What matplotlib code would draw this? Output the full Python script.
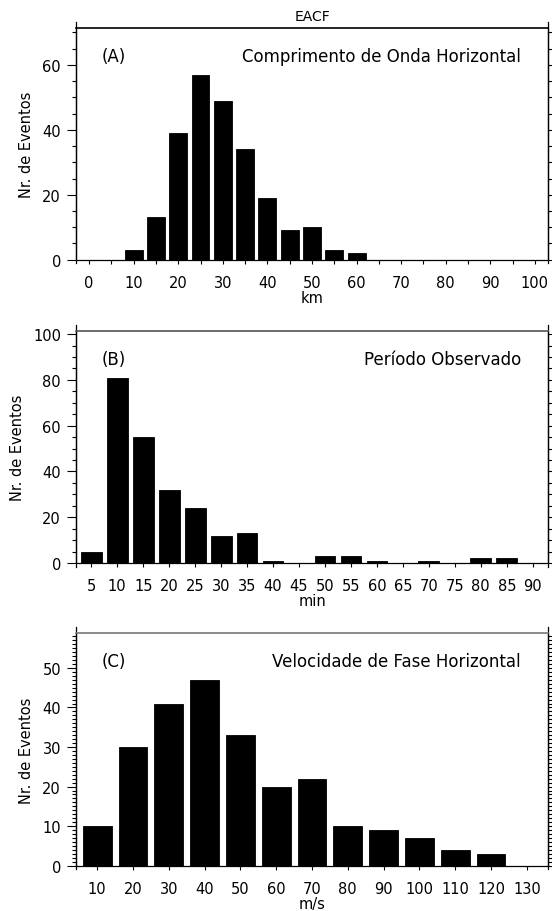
import numpy as np
import matplotlib.pyplot as plt
from matplotlib.ticker import MultipleLocator

# (A) comprimento de onda horizontal (classes de 5 km)
lambda_km = [0, 5, 10, 15, 20, 25, 30, 35, 40, 45, 50,
             55, 60, 65, 70, 75, 80, 85, 90, 95, 100]
lambda_n = [0, 0, 3, 13, 39, 57, 49, 34, 19, 9, 10,
            3, 2, 0, 0, 0, 0, 0, 0, 0, 0]

# (B) periodo observado (classes de 5 min)
periodo_min = [5, 10, 15, 20, 25, 30, 35, 40, 45,
               50, 55, 60, 65, 70, 75, 80, 85, 90]
periodo_n = [5, 81, 55, 32, 24, 12, 13, 1, 0,
             3, 3, 1, 0, 1, 0, 2, 2, 0]

# (C) velocidade de fase horizontal (classes de 10 m/s)
vel_ms = [10, 20, 30, 40, 50, 60, 70, 80, 90, 100, 110, 120, 130]
vel_n = [10, 30, 41, 47, 33, 20, 22, 10, 9, 7, 4, 3, 0]

plt.rcParams['font.family'] = 'DejaVu Sans'
plt.rcParams['font.size'] = 10


def histo(ax, x, n, dx, xmaj, xmin, ymaj, ymin, xlabel, tag, name, topcolor):
    ax.bar(x, n, width=0.8 * dx, color='black', edgecolor='black', linewidth=0.6)
    ax.set_xlim(x[0] - 0.6 * dx, x[-1] + 0.6 * dx)
    ax.set_ylim(0, 1.25 * max(n))
    ax.xaxis.set_major_locator(MultipleLocator(xmaj))
    ax.xaxis.set_minor_locator(MultipleLocator(xmin))
    ax.yaxis.set_major_locator(MultipleLocator(ymaj))
    ax.yaxis.set_minor_locator(MultipleLocator(ymin))
    ax.tick_params(axis='x', which='both', direction='out', top=False,
                   length=2.9, width=0.8, pad=8.0, labelsize=10.5)
    ax.tick_params(axis='y', which='major', direction='out', left=True, right=True,
                   length=6.5, width=0.8, pad=4.0, labelsize=10.5)
    ax.tick_params(axis='y', which='minor', direction='out', left=True, right=True,
                   length=3.0, width=0.8)
    ax.spines['top'].set_color(topcolor)
    ax.spines['top'].set_linewidth(1.2)
    for s in ['left', 'right', 'bottom']:
        ax.spines[s].set_linewidth(0.9)
    # eixos verticais passam um pouco alem da caixa
    for xs in [0, 1]:
        ax.plot([xs, xs], [-0.016, 1.026], color='black', lw=0.9,
                transform=ax.transAxes, clip_on=False)
    ax.set_xlabel(xlabel, fontsize=10.5, labelpad=0)
    ax.set_ylabel('Nr. de Eventos', fontsize=10.5, labelpad=6)
    ax.text(0.055, 0.88, tag, transform=ax.transAxes, fontsize=12,
            ha='left', va='center')
    ax.text(0.942, 0.88, name, transform=ax.transAxes, fontsize=12,
            ha='right', va='center')


fig = plt.figure(figsize=(5.52, 9.12), dpi=100)
left = 75.7 / 552
width = (548.3 - 75.7) / 552

axA = fig.add_axes([left, 1 - 260.7 / 912, width, 231.4 / 912])
histo(axA, lambda_km, lambda_n, 5, 10, 5, 20, 5, 'km', '(A)',
      'Comprimento de Onda Horizontal', 'black')
axA.set_title('EACF', fontsize=10, pad=6)

axB = fig.add_axes([left, 1 - 564.0 / 912, width, 231.7 / 912])
histo(axB, periodo_min, periodo_n, 5, 5, 5, 20, 5, 'min', '(B)',
      'Período Observado', '#555555')

axC = fig.add_axes([left, 1 - 866.7 / 912, width, 232.4 / 912])
histo(axC, vel_ms, vel_n, 10, 10, 10, 10, 1, 'm/s', '(C)',
      'Velocidade de Fase Horizontal', '#777777')

fig.savefig('out.png', dpi=100)
